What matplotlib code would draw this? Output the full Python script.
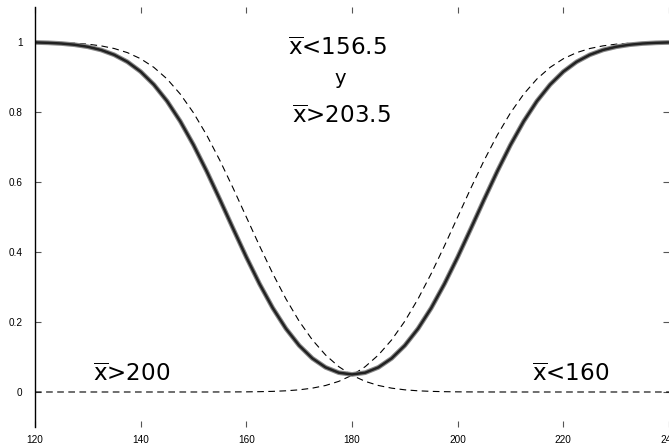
import numpy as np
import matplotlib
matplotlib.use("Agg")
import matplotlib.pyplot as plt

plt.rcParams['font.family'] = ['Liberation Sans', 'DejaVu Sans']
plt.rcParams['mathtext.fontset'] = 'custom'
plt.rcParams['mathtext.rm'] = 'DejaVu Sans'
plt.rcParams['mathtext.it'] = 'DejaVu Sans'

# mean values (x axis), every 2.5
mu = np.arange(120, 240.1, 2.5)

# power of test: reject if xbar<156.5 or xbar>203.5 (solid)
power_both = [0.9988, 0.9977, 0.9957, 0.9922, 0.9864, 0.9773, 0.9634, 0.9433,
              0.9154, 0.8783, 0.8311, 0.7734, 0.7060, 0.6306, 0.5498, 0.4669,
              0.3854, 0.3089, 0.2400, 0.1810, 0.1329, 0.0961, 0.0704, 0.0552,
              0.0502,
              0.0552, 0.0704, 0.0961, 0.1329, 0.1810, 0.2400, 0.3089, 0.3854,
              0.4669, 0.5498, 0.6306, 0.7060, 0.7734, 0.8311, 0.8783, 0.9154,
              0.9433, 0.9634, 0.9773, 0.9864, 0.9922, 0.9957, 0.9977, 0.9988]

# reject if xbar<160 (dashed, falling)
power_low = [0.9996, 0.9991, 0.9982, 0.9966, 0.9938, 0.9890, 0.9814, 0.9696,
             0.9522, 0.9276, 0.8944, 0.8512, 0.7977, 0.7340, 0.6615, 0.5825,
             0.5000, 0.4175, 0.3385, 0.2660, 0.2023, 0.1488, 0.1057, 0.0724,
             0.0478, 0.0304, 0.0186, 0.0110, 0.0062, 0.0034, 0.0018, 0.0009,
             0.0004, 0.0002, 0.0001, 0, 0, 0, 0, 0, 0, 0, 0, 0, 0, 0, 0, 0, 0]

# reject if xbar>200 (dashed, rising)
power_high = power_low[::-1]

xticks = [120, 140, 160, 180, 200, 220, 240]
yticks = [0, 0.2, 0.4, 0.6, 0.8, 1]
ytick_labels = ['0', '0.2', '0.4', '0.6', '0.8', '1']

fig = plt.figure(figsize=(6.69, 4.44), dpi=100)
ax = fig.add_axes([0.0523, 0.0383, 0.9477, 0.9459])

ax.plot(mu, power_low, color='black', lw=0.8, dashes=(6, 4))
ax.plot(mu, power_high, color='black', lw=0.8, dashes=(6, 4))
ax.plot(mu, power_both, color='#8a8a8a', lw=3.4, solid_capstyle='butt')
ax.plot(mu, power_both, color='#222222', lw=1.8, solid_capstyle='butt')

ax.set_xlim(120, 240)
ax.set_ylim(-0.1, 1.1)
ax.set_xticks(xticks)
ax.set_yticks(yticks)
ax.set_yticklabels(ytick_labels)
ax.tick_params(direction='in', length=4, width=0.8, color='#555555',
               labelsize=7.2, top=True, right=True)
ax.tick_params(axis='y', pad=9)
ax.tick_params(axis='x', pad=6)

for s in ['top', 'right', 'bottom']:
    ax.spines[s].set_visible(False)
ax.spines['left'].set_linewidth(1.0)

fs = 16.6
tf = 'DejaVu Sans'
ax.text(167.9, 0.963, r'$\overline{\mathrm{x}}$<156.5', fontsize=fs, family=tf, ha='left', va='baseline')
ax.text(177.8, 0.897, 'y', fontsize=fs * 0.85, family=tf, ha='center', va='center')
ax.text(168.7, 0.769, r'$\overline{\mathrm{x}}$>203.5', fontsize=fs, family=tf, ha='left', va='baseline')
ax.text(131.0, 0.031, r'$\overline{\mathrm{x}}$>200', fontsize=fs, family=tf, ha='left', va='baseline')
ax.text(214.1, 0.030, r'$\overline{\mathrm{x}}$<160', fontsize=fs, family=tf, ha='left', va='baseline')

fig.savefig('out.png', dpi=100)
